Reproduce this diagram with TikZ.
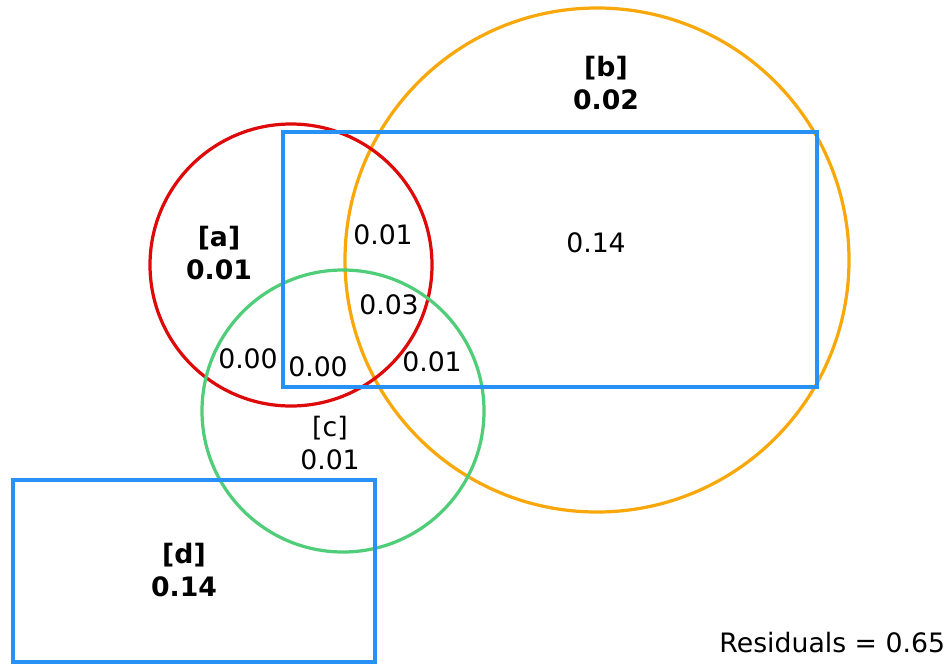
\documentclass[tikz,border=0pt]{standalone}
\usepackage{fontspec}
\setmainfont{DejaVu Sans}
\begin{document}
\begin{tikzpicture}[x=0.025cm, y=-0.025cm, thick]
        % Definición de estilos
        \definecolor{rojoA}{RGB}{222,10,10}
        \definecolor{naranjaB}{RGB}{248,168,10}
        \definecolor{verdeC}{RGB}{80,205,120}
        \definecolor{azulD}{RGB}{40,145,245}
        \tikzset{
          conjunto/.style={line width=2.3pt},
          etiqueta/.style={font=\fontsize{19}{24}\selectfont, inner sep=1pt, align=center},
          etiquetaBold/.style={etiqueta, font=\fontsize{19}{24}\selectfont\bfseries}
        }
        \useasboundingbox (0,0) rectangle (951,664);

        % Conjuntos
        \draw[conjunto, naranjaB] (597,260) circle[radius=252];
        \draw[conjunto, rojoA] (291,265) circle[radius=141];
        \draw[conjunto, verdeC] (343,411) circle[radius=141];
        \draw[conjunto, azulD] (283,132) rectangle (817,387);
        \draw[conjunto, azulD] (13,480) rectangle (375,662);

        % Etiquetas
        \node[etiquetaBold] (etqB) at (606,83) {[b]\\0.02};
        \node[etiquetaBold] (etqA) at (219,253) {[a]\\0.01};
        \node[etiquetaBold] (etqD) at (184,570) {[d]\\0.14};
        \node[etiqueta] (etqC) at (330,443) {[c]\\0.01};
        \node[etiqueta] (valAB) at (383,235) {0.01};
        \node[etiqueta] (valB) at (596,243) {0.14};
        \node[etiqueta] (valABC) at (389,305) {0.03};
        \node[etiqueta] (valAC) at (248,359) {0.00};
        \node[etiqueta] (valACD) at (318,367) {0.00};
        \node[etiqueta] (valBC) at (432,362) {0.01};
        \node[etiqueta, anchor=east] (residuos) at (947,643) {Residuals = 0.65};
    \end{tikzpicture}
\end{document}
